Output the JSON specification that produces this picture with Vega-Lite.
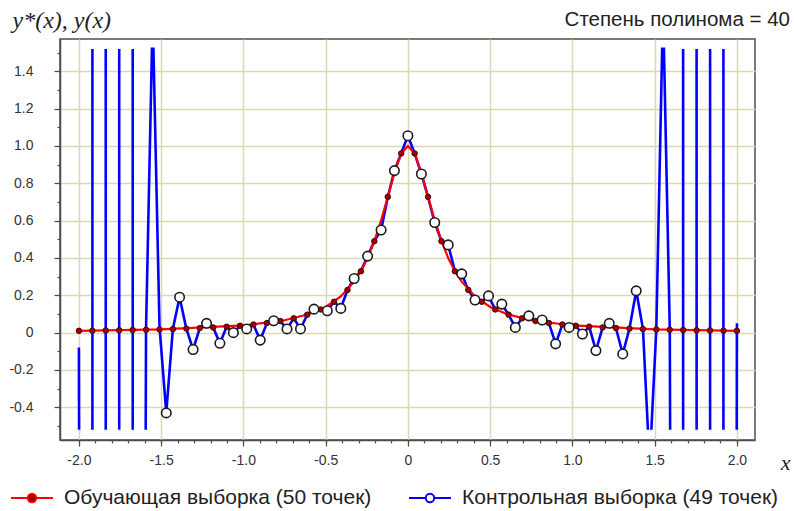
{
  "$schema": "https://vega.github.io/schema/vega-lite/v6.json",
  "width": 695,
  "height": 401,
  "autosize": {"type": "none"},
  "padding": {"left": 60, "top": 39, "right": 39, "bottom": 71},
  "background": "white",
  "config": {
    "view": {"stroke": "#4d4d4d", "strokeWidth": 1.5},
    "font": "Liberation Sans",
    "axis": {
      "gridColor": "#d9d9b5",
      "gridWidth": 1.5,
      "domainColor": "#4d4d4d",
      "domainWidth": 1.5,
      "tickColor": "#4d4d4d",
      "tickWidth": 1.2,
      "labelFont": "Liberation Sans",
      "labelFontSize": 14,
      "labelColor": "#333333",
      "labelOverlap": false,
      "labelBound": false,
      "labelFlush": false
    }
  },
  "title": {
    "text": "Степень полинома = 40",
    "anchor": "end",
    "frame": "group",
    "font": "Liberation Sans",
    "fontSize": 20.5,
    "fontWeight": "normal",
    "color": "#222222",
    "dx": 35,
    "dy": 32,
    "offset": 10
  },
  "resolve": {"axis": {"x": "independent", "y": "independent"}},
  "datasets": {
    "blue": [
      {"g": 1, "x": -2.0, "y": -0.08}, {"g": 1, "x": -1.999, "y": -0.52},
      {"g": 2, "x": -1.918, "y": -0.52}, {"g": 2, "x": -1.9179, "y": 1.52},
      {"g": 3, "x": -1.837, "y": 1.52}, {"g": 3, "x": -1.8369, "y": -0.52},
      {"g": 4, "x": -1.755, "y": -0.52}, {"g": 4, "x": -1.7549, "y": 1.52},
      {"g": 5, "x": -1.673, "y": 1.52}, {"g": 5, "x": -1.6729, "y": -0.52},
      {"g": 6, "x": -1.594, "y": -0.52}, {"g": 6, "x": -1.592, "y": 0.02},
      {"g": 6, "x": -1.556, "y": 1.52}, {"g": 6, "x": -1.547, "y": 1.52},
      {"g": 6, "x": -1.51, "y": 0.03}, {"g": 6, "x": -1.469, "y": -0.43},
      {"g": 6, "x": -1.429, "y": 0.02}, {"g": 6, "x": -1.388, "y": 0.19},
      {"g": 6, "x": -1.347, "y": 0.022}, {"g": 6, "x": -1.306, "y": -0.09},
      {"g": 6, "x": -1.265, "y": 0.024}, {"g": 6, "x": -1.224, "y": 0.05},
      {"g": 6, "x": -1.184, "y": 0.028}, {"g": 6, "x": -1.143, "y": -0.057},
      {"g": 6, "x": -1.102, "y": 0.032}, {"g": 6, "x": -1.061, "y": 0.0},
      {"g": 6, "x": -1.02, "y": 0.037}, {"g": 6, "x": -0.98, "y": 0.02},
      {"g": 6, "x": -0.939, "y": 0.043}, {"g": 6, "x": -0.898, "y": -0.04},
      {"g": 6, "x": -0.857, "y": 0.052}, {"g": 6, "x": -0.816, "y": 0.064},
      {"g": 6, "x": -0.776, "y": 0.062}, {"g": 6, "x": -0.735, "y": 0.02},
      {"g": 6, "x": -0.694, "y": 0.077}, {"g": 6, "x": -0.653, "y": 0.02},
      {"g": 6, "x": -0.612, "y": 0.096}, {"g": 6, "x": -0.571, "y": 0.126},
      {"g": 6, "x": -0.531, "y": 0.124}, {"g": 6, "x": -0.49, "y": 0.117},
      {"g": 6, "x": -0.449, "y": 0.166}, {"g": 6, "x": -0.408, "y": 0.13},
      {"g": 6, "x": -0.367, "y": 0.229}, {"g": 6, "x": -0.327, "y": 0.29},
      {"g": 6, "x": -0.286, "y": 0.329}, {"g": 6, "x": -0.245, "y": 0.41},
      {"g": 6, "x": -0.204, "y": 0.49}, {"g": 6, "x": -0.163, "y": 0.55},
      {"g": 6, "x": -0.122, "y": 0.727}, {"g": 6, "x": -0.082, "y": 0.868},
      {"g": 6, "x": -0.041, "y": 0.96}, {"g": 6, "x": 0.0, "y": 1.055},
      {"g": 6, "x": 0.041, "y": 0.96}, {"g": 6, "x": 0.082, "y": 0.85},
      {"g": 6, "x": 0.122, "y": 0.727}, {"g": 6, "x": 0.163, "y": 0.59},
      {"g": 6, "x": 0.204, "y": 0.49}, {"g": 6, "x": 0.245, "y": 0.47},
      {"g": 6, "x": 0.286, "y": 0.329}, {"g": 6, "x": 0.327, "y": 0.315},
      {"g": 6, "x": 0.367, "y": 0.229}, {"g": 6, "x": 0.408, "y": 0.175},
      {"g": 6, "x": 0.449, "y": 0.166}, {"g": 6, "x": 0.49, "y": 0.197},
      {"g": 6, "x": 0.531, "y": 0.124}, {"g": 6, "x": 0.571, "y": 0.153},
      {"g": 6, "x": 0.612, "y": 0.096}, {"g": 6, "x": 0.653, "y": 0.028},
      {"g": 6, "x": 0.694, "y": 0.077}, {"g": 6, "x": 0.735, "y": 0.09},
      {"g": 6, "x": 0.776, "y": 0.062}, {"g": 6, "x": 0.816, "y": 0.068},
      {"g": 6, "x": 0.857, "y": 0.052}, {"g": 6, "x": 0.898, "y": -0.06},
      {"g": 6, "x": 0.939, "y": 0.043}, {"g": 6, "x": 0.98, "y": 0.028},
      {"g": 6, "x": 1.02, "y": 0.037}, {"g": 6, "x": 1.061, "y": -0.007},
      {"g": 6, "x": 1.102, "y": 0.032}, {"g": 6, "x": 1.143, "y": -0.096},
      {"g": 6, "x": 1.184, "y": 0.028}, {"g": 6, "x": 1.224, "y": 0.05},
      {"g": 6, "x": 1.265, "y": 0.024}, {"g": 6, "x": 1.306, "y": -0.114},
      {"g": 6, "x": 1.347, "y": 0.022}, {"g": 6, "x": 1.388, "y": 0.224},
      {"g": 6, "x": 1.429, "y": 0.019}, {"g": 6, "x": 1.459, "y": -0.52},
      {"g": 7, "x": 1.48, "y": -0.52}, {"g": 7, "x": 1.51, "y": 0.017},
      {"g": 7, "x": 1.5456, "y": 1.52}, {"g": 7, "x": 1.5564, "y": 1.52},
      {"g": 7, "x": 1.592, "y": 0.016}, {"g": 7, "x": 1.594, "y": -0.52},
      {"g": 8, "x": 1.673, "y": -0.52}, {"g": 8, "x": 1.6731, "y": 1.52},
      {"g": 9, "x": 1.755, "y": 1.52}, {"g": 9, "x": 1.7551, "y": -0.52},
      {"g": 10, "x": 1.837, "y": -0.52}, {"g": 10, "x": 1.8371, "y": 1.52},
      {"g": 11, "x": 1.918, "y": 1.52}, {"g": 11, "x": 1.9181, "y": -0.52},
      {"g": 12, "x": 1.999, "y": -0.52}, {"g": 12, "x": 2.0, "y": 0.05}
    ],
    "train": [
      {"x": -2.0, "y": 0.0099}, {"x": -1.9184, "y": 0.0107}, {"x": -1.8367, "y": 0.0117},
      {"x": -1.7551, "y": 0.0128}, {"x": -1.6735, "y": 0.0141}, {"x": -1.5918, "y": 0.0155},
      {"x": -1.5102, "y": 0.0172}, {"x": -1.4286, "y": 0.0192}, {"x": -1.3469, "y": 0.0216},
      {"x": -1.2653, "y": 0.0244}, {"x": -1.1837, "y": 0.0278}, {"x": -1.102, "y": 0.0319},
      {"x": -1.0204, "y": 0.037}, {"x": -0.9388, "y": 0.0434}, {"x": -0.8571, "y": 0.0516},
      {"x": -0.7755, "y": 0.0624}, {"x": -0.6939, "y": 0.0767}, {"x": -0.6122, "y": 0.0964},
      {"x": -0.5306, "y": 0.1244}, {"x": -0.449, "y": 0.1656}, {"x": -0.3673, "y": 0.2287},
      {"x": -0.2857, "y": 0.3289}, {"x": -0.2041, "y": 0.4899}, {"x": -0.1224, "y": 0.7273},
      {"x": -0.0408, "y": 0.96}, {"x": 0.0408, "y": 0.96}, {"x": 0.1224, "y": 0.7273},
      {"x": 0.2041, "y": 0.4899}, {"x": 0.2857, "y": 0.3289}, {"x": 0.3673, "y": 0.2287},
      {"x": 0.449, "y": 0.1656}, {"x": 0.5306, "y": 0.1244}, {"x": 0.6122, "y": 0.0964},
      {"x": 0.6939, "y": 0.0767}, {"x": 0.7755, "y": 0.0624}, {"x": 0.8571, "y": 0.0516},
      {"x": 0.9388, "y": 0.0434}, {"x": 1.0204, "y": 0.037}, {"x": 1.102, "y": 0.0319},
      {"x": 1.1837, "y": 0.0278}, {"x": 1.2653, "y": 0.0244}, {"x": 1.3469, "y": 0.0216},
      {"x": 1.4286, "y": 0.0192}, {"x": 1.5102, "y": 0.0172}, {"x": 1.5918, "y": 0.0155},
      {"x": 1.6735, "y": 0.0141}, {"x": 1.7551, "y": 0.0128}, {"x": 1.8367, "y": 0.0117},
      {"x": 1.9184, "y": 0.0107}, {"x": 2.0, "y": 0.0099}
    ],
    "red": [
      {"x": -2.0, "y": 0.0099}, {"x": -1.5, "y": 0.0175}, {"x": -1.0, "y": 0.0385},
      {"x": -0.75, "y": 0.0664}, {"x": -0.6, "y": 0.1}, {"x": -0.5, "y": 0.1379},
      {"x": -0.408, "y": 0.194}, {"x": -0.327, "y": 0.273}, {"x": -0.2857, "y": 0.3289},
      {"x": -0.245, "y": 0.4}, {"x": -0.2041, "y": 0.4899}, {"x": -0.163, "y": 0.601},
      {"x": -0.1224, "y": 0.7273}, {"x": -0.082, "y": 0.856}, {"x": -0.0408, "y": 0.96},
      {"x": 0.0, "y": 1.0},
      {"x": 0.0408, "y": 0.96}, {"x": 0.082, "y": 0.856}, {"x": 0.1224, "y": 0.7273},
      {"x": 0.163, "y": 0.601}, {"x": 0.2041, "y": 0.4899}, {"x": 0.245, "y": 0.4},
      {"x": 0.2857, "y": 0.3289}, {"x": 0.327, "y": 0.273}, {"x": 0.408, "y": 0.194},
      {"x": 0.5, "y": 0.1379}, {"x": 0.6, "y": 0.1}, {"x": 0.75, "y": 0.0664},
      {"x": 1.0, "y": 0.0385}, {"x": 1.5, "y": 0.0175}, {"x": 2.0, "y": 0.0099}
    ],
    "ctrl": [
      {"x": -1.469, "y": -0.43}, {"x": -1.388, "y": 0.19}, {"x": -1.306, "y": -0.09},
      {"x": -1.224, "y": 0.05}, {"x": -1.143, "y": -0.057}, {"x": -1.061, "y": 0.0},
      {"x": -0.98, "y": 0.02}, {"x": -0.898, "y": -0.04}, {"x": -0.816, "y": 0.064},
      {"x": -0.735, "y": 0.02}, {"x": -0.653, "y": 0.02}, {"x": -0.571, "y": 0.126},
      {"x": -0.49, "y": 0.117}, {"x": -0.408, "y": 0.13}, {"x": -0.327, "y": 0.29},
      {"x": -0.245, "y": 0.41}, {"x": -0.163, "y": 0.55}, {"x": -0.082, "y": 0.868},
      {"x": 0.0, "y": 1.055}, {"x": 0.082, "y": 0.85}, {"x": 0.163, "y": 0.59},
      {"x": 0.245, "y": 0.47}, {"x": 0.327, "y": 0.315}, {"x": 0.408, "y": 0.175},
      {"x": 0.49, "y": 0.197}, {"x": 0.571, "y": 0.153}, {"x": 0.653, "y": 0.028},
      {"x": 0.735, "y": 0.09}, {"x": 0.816, "y": 0.068}, {"x": 0.898, "y": -0.06},
      {"x": 0.98, "y": 0.028}, {"x": 1.061, "y": -0.007}, {"x": 1.143, "y": -0.096},
      {"x": 1.224, "y": 0.05}, {"x": 1.306, "y": -0.114}, {"x": 1.388, "y": 0.224}
    ]
  },
  "layer": [
    {
      "data": {"name": "blue"},
      "mark": {"type": "line", "strokeWidth": 2.6, "clip": true},
      "encoding": {
        "x": {
          "field": "x", "type": "quantitative",
          "scale": {"domain": [-2.115, 2.11], "nice": false, "zero": false},
          "axis": {
            "orient": "bottom",
            "values": [-2.0, -1.5, -1.0, -0.5, 0, 0.5, 1.0, 1.5, 2.0],
            "labelExpr": "datum.value == 0 ? '0' : (datum.value < 0 ? '-' : '') + format(abs(datum.value), '.1f')",
            "tickSize": 6,
            "grid": true,
            "labelPadding": 7,
            "title": "x",
            "titleFont": "Liberation Serif",
            "titleFontStyle": "italic",
            "titleFontWeight": "normal",
            "titleFontSize": 22,
            "titleColor": "#222222",
            "titleAlign": "center",
            "titleBaseline": "middle",
            "titleX": 725,
            "titleY": 22
          }
        },
        "y": {
          "field": "y", "type": "quantitative",
          "scale": {"domain": [-0.575, 1.573], "nice": false, "zero": false},
          "axis": {
            "orient": "left",
            "values": [-0.4, -0.2, 0, 0.2, 0.4, 0.6, 0.8, 1.0, 1.2, 1.4],
            "labelExpr": "datum.value == 0 ? '0' : (datum.value < 0 ? '-' : '') + format(abs(datum.value), '.1f')",
            "tickSize": 6,
            "grid": true,
            "labelPadding": 21,
            "title": "y*(x), y(x)",
            "titleFont": "Liberation Serif",
            "titleFontStyle": "italic",
            "titleFontWeight": "normal",
            "titleFontSize": 24,
            "titleColor": "#222222",
            "titleAngle": 0,
            "titleAlign": "left",
            "titleBaseline": "middle",
            "titleX": -48,
            "titleY": -19
          }
        },
        "detail": {"field": "g", "type": "nominal"},
        "stroke": {
          "datum": "Контрольная выборка (49 точек)",
          "type": "nominal",
          "scale": {"domain": ["Обучающая выборка (50 точек)", "Контрольная выборка (49 точек)"], "range": ["#ff0000", "#0000ff"]},
          "legend": {
            "title": null,
            "orient": "none",
            "legendX": -50,
            "legendY": 437,
            "direction": "horizontal",
            "symbolType": "M-1,0L-0.2,0M0.2,0L1,0M-0.2,0A0.2,0.2,0,1,1,0.2,0A0.2,0.2,0,1,1,-0.2,0Z",
            "symbolSize": 1764,
            "symbolStrokeWidth": 2,
            "labelFont": "Liberation Sans",
            "labelFontSize": 21,
            "labelColor": "#222222",
            "labelOffset": 10,
            "columnPadding": 33,
            "labelLimit": 500,
            "encode": {
              "symbols": {
                "update": {
                  "fill": {"signal": "indexof(datum.value, 'Обуч') >= 0 ? '#a00000' : '#ffffff'"},
                  "opacity": {"value": 1}
                }
              }
            }
          }
        }
      }
    },
    {
      "data": {"name": "red"},
      "mark": {"type": "line", "strokeWidth": 2.2},
      "encoding": {
        "x": {"field": "x", "type": "quantitative", "axis": null},
        "y": {"field": "y", "type": "quantitative", "axis": null},
        "stroke": {"datum": "Обучающая выборка (50 точек)", "type": "nominal"}
      }
    },
    {
      "data": {"name": "train"},
      "mark": {"type": "point", "filled": true, "fill": "#a00000", "stroke": "#4a0000", "strokeWidth": 1, "size": 30, "opacity": 1},
      "encoding": {
        "x": {"field": "x", "type": "quantitative", "axis": null},
        "y": {"field": "y", "type": "quantitative", "axis": null}
      }
    },
    {
      "data": {"name": "ctrl"},
      "mark": {"type": "point", "filled": false, "fill": "#ffffff", "fillOpacity": 1, "stroke": "#1a1a1a", "strokeWidth": 1.6, "size": 90, "opacity": 1},
      "encoding": {
        "x": {
          "field": "x", "type": "quantitative",
          "axis": {
            "orient": "bottom",
            "values": [-2.0,-1.9,-1.8,-1.7,-1.6,-1.5,-1.4,-1.3,-1.2,-1.1,-1.0,-0.9,-0.8,-0.7,-0.6,-0.5,-0.4,-0.3,-0.2,-0.1,0,0.1,0.2,0.3,0.4,0.5,0.6,0.7,0.8,0.9,1.0,1.1,1.2,1.3,1.4,1.5,1.6,1.7,1.8,1.9,2.0],
            "tickSize": 3,
            "grid": false,
            "labels": false,
            "domain": false,
            "title": null
          }
        },
        "y": {
          "field": "y", "type": "quantitative",
          "axis": {
            "orient": "left",
            "values": [-0.5,-0.4,-0.3,-0.2,-0.1,0,0.1,0.2,0.3,0.4,0.5,0.6,0.7,0.8,0.9,1.0,1.1,1.2,1.3,1.4,1.5],
            "tickSize": 3,
            "grid": false,
            "labels": false,
            "domain": false,
            "title": null
          }
        }
      }
    }
  ]
}
